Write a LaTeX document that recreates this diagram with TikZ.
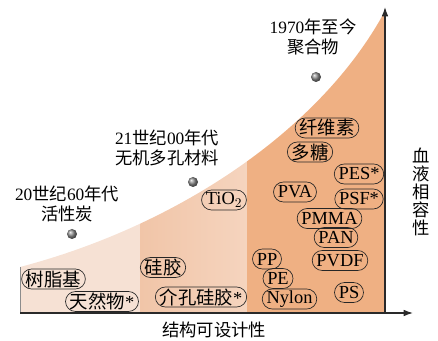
\documentclass[tikz,border=0pt]{standalone}
\usepackage{fontspec}
\setmainfont{Liberation Serif}
\newfontfamily\cjk{Noto Sans CJK SC}
\usetikzlibrary{arrows.meta}
\definecolor{rA}{HTML}{F6E1D4}
\definecolor{rBl}{HTML}{F1C5A8}
\definecolor{rBr}{HTML}{F5D4BE}
\definecolor{rC}{HTML}{EFB083}
\definecolor{axc}{HTML}{2A2A2A}
\tikzset{
  x=0.75pt, y=-0.75pt,
  pill/.style={draw=black!85, line width=0.5pt, rounded corners=7.5pt, minimum height=20*0.75pt,
    inner xsep=3.2pt, inner ysep=0pt, font=\fontsize{13.8}{14}\selectfont},
  lbl/.style={align=center, font=\fontsize{13}{16}\selectfont},
  dotball/.style={circle, minimum size=7.5pt, inner sep=0pt, shading=ball, ball color=black!45},
  axis/.style={draw=axc, line width=0.9pt, -{Latex[length=7pt,width=5pt]}}
}
\begin{document}
\begin{tikzpicture}
\useasboundingbox (0,0) rectangle (438,341);
\begin{scope}
  \clip (20,313) -- (20,267) .. controls (180,225) and (322,128) .. (385,11) -- (385,313) -- cycle;
  \fill[rA] (20,0) rectangle (140,313);
  \shade[left color=rBl, right color=rBr] (140,0) rectangle (247,313);
  \fill[rC] (247,0) rectangle (385,313);
\end{scope}
\draw[black!45, line width=0.4pt] (20,313) -- (20,267);
\coordinate (O) at (20,313);
\coordinate (xend) at (413,313);
\coordinate (yb) at (385,313);
\coordinate (yend) at (385,7);
\draw[axis] (O) -- (xend);
\draw[axis] (yb) -- (yend);
% labels
\node[lbl] (t1970) at (313,37) {1970{\cjk 年至今}\\[-1pt]{\cjk 聚合物}};
\node[lbl] (t21) at (167,148) {21{\cjk 世纪}00{\cjk 年代}\\[-1pt]{\cjk 无机多孔材料}};
\node[lbl] (t20) at (67,204) {20{\cjk 世纪}60{\cjk 年代}\\[-1pt]{\cjk 活性炭}};
\node[align=center, font=\fontsize{13}{13.6}\selectfont\cjk] (yl) at (421,192) {血\\液\\相\\容\\性};
\node[font=\fontsize{13}{14}\selectfont\cjk] (xl) at (214,330) {结构可设计性};
% dots
\node[dotball] (d1) at (72,234) {};
\node[dotball] (d2) at (193,182) {};
\node[dotball] (d3) at (316,77) {};
% pills
\node[pill] (a1) at (53.5,279) {\cjk 树脂基};
\node[pill] (a2) at (102,301.5) {{\cjk 天然物}*};
\node[pill] (b1) at (163,267.5) {\cjk 硅胶};
\node[pill] (b2) at (201,297) {{\cjk 介孔硅胶}*};
\node[pill] (b3) at (224,200) {TiO$_2$};
\node[pill] (c1) at (327,128) {\cjk 纤维素};
\node[pill] (c2) at (310,152) {\cjk 多糖};
\node[pill] (c3) at (359,174) {PES*};
\node[pill] (c4) at (359,199) {PSF*};
\node[pill] (c5) at (295,192) {PVA};
\node[pill] (c6) at (329.5,218.5) {PMMA};
\node[pill] (c7) at (336,237.5) {PAN};
\node[pill] (c8) at (340,260.5) {PVDF};
\node[pill] (c9) at (267,259) {PP};
\node[pill] (c10) at (278,278.5) {PE};
\node[pill] (c11) at (289.5,299) {Nylon};
\node[pill] (c12) at (349,292.5) {PS};
\end{tikzpicture}
\end{document}
